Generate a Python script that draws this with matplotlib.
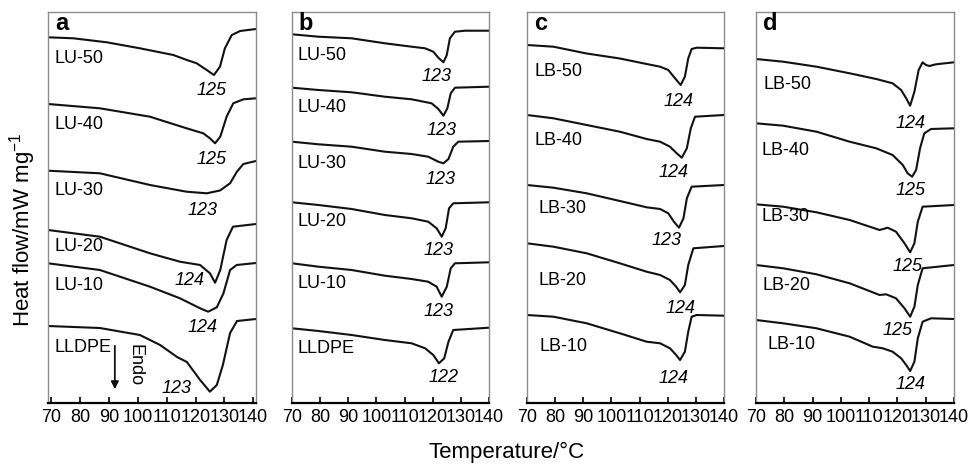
import matplotlib
matplotlib.use('Agg')
import matplotlib.pyplot as plt

plt.rcParams['font.family'] = ['Liberation Sans', 'DejaVu Sans']
plt.rcParams['mathtext.fontset'] = 'custom'
plt.rcParams['mathtext.rm'] = 'Liberation Sans'
plt.rcParams['mathtext.it'] = 'Liberation Sans:italic'

# ---------------- data (temperature / °C, heat flow in arbitrary offset units) ----------------
temp_ticks = [70, 80, 90, 100, 110, 120, 130, 140]

# panel a
a_names = ['LU-50', 'LU-40', 'LU-30', 'LU-20', 'LU-10', 'LLDPE']
a_peaks = ['125', '125', '123', '124', '124', '123']
a_lu50_t = [68.8, 77.6, 89.2, 100.7, 112.3, 117.0, 120.4, 123.9, 126.4, 128.5, 130.2, 132.6, 135.5, 141.0]
a_lu50_h = [365.7, 364.7, 360.7, 354.7, 348.0, 343.0, 339.7, 333.0, 328.0, 336.3, 354.7, 368.0, 372.0, 374.0]
a_lu40_t = [68.8, 86.8, 104.2, 116.9, 122.7, 125.0, 126.8, 128.6, 130.8, 133.1, 136.6, 141.0]
a_lu40_h = [299.0, 294.7, 286.3, 274.7, 269.7, 264.7, 259.7, 266.3, 286.3, 299.7, 303.7, 304.7]
a_lu30_t = [68.8, 86.8, 104.2, 116.9, 123.9, 128.5, 132.0, 134.3, 136.6, 141.0]
a_lu30_h = [232.3, 229.7, 218.0, 211.3, 209.7, 212.5, 219.7, 231.0, 239.0, 242.0]
a_lu20_t = [68.8, 86.8, 104.2, 114.6, 121.6, 125.0, 126.8, 128.6, 130.8, 133.0, 141.0]
a_lu20_h = [173.0, 166.3, 149.7, 141.3, 138.0, 129.7, 120.3, 133.0, 163.0, 176.3, 179.0]
a_lu10_t = [68.8, 86.8, 104.2, 114.6, 121.6, 124.4, 127.4, 129.7, 132.0, 134.3, 141.0]
a_lu10_h = [139.7, 133.0, 116.3, 104.7, 94.7, 91.3, 95.7, 109.7, 133.0, 138.0, 140.0]
a_lldpe_t = [68.8, 86.8, 100.7, 107.7, 113.6, 117.0, 121.6, 125.0, 127.4, 129.5, 132.0, 134.4, 141.0]
a_lldpe_h = [77.0, 75.0, 68.0, 58.0, 46.0, 41.0, 23.0, 11.3, 18.0, 38.0, 70.0, 82.0, 84.0]

# panel b
b_names = ['LU-50', 'LU-40', 'LU-30', 'LU-20', 'LU-10', 'LLDPE']
b_peaks = ['123', '123', '123', '123', '123', '122']
b_lu50_t = [70, 79.4, 91.2, 103.0, 112.5, 117.3, 120.2, 122.0, 123.8, 125.0, 126.1, 127.9, 131.5, 140]
b_lu50_h = [368.7, 366.3, 364.7, 359.7, 356.3, 354.7, 351.3, 345.3, 340.7, 348.0, 364.7, 371.3, 372.3, 372.3]
b_lu40_t = [70, 79.4, 91.2, 103.0, 112.5, 119.6, 122.0, 123.8, 125.2, 126.4, 127.9, 140]
b_lu40_h = [315.3, 313.0, 310.7, 306.3, 303.7, 299.7, 294.0, 287.3, 294.7, 309.7, 315.3, 316.3]
b_lu30_t = [70, 79.4, 91.2, 103.0, 112.5, 118.4, 122.0, 123.8, 125.6, 127.3, 129.1, 140]
b_lu30_h = [261.3, 258.7, 256.3, 251.3, 249.0, 246.3, 241.3, 239.7, 244.0, 256.3, 261.3, 262.0]
b_lu20_t = [70, 79.4, 91.2, 103.0, 112.5, 118.4, 121.4, 123.2, 124.6, 125.8, 127.3, 140]
b_lu20_h = [200.7, 198.0, 194.0, 188.0, 184.7, 181.3, 174.7, 166.3, 174.7, 194.7, 199.7, 200.7]
b_lu10_t = [70, 79.4, 91.2, 103.0, 112.5, 118.4, 121.4, 123.2, 125.0, 126.4, 127.9, 140]
b_lu10_h = [139.7, 136.3, 133.0, 127.3, 124.0, 121.3, 116.3, 106.3, 116.3, 134.7, 139.7, 140.7]
b_lldpe_t = [70, 79.4, 91.2, 103.0, 112.5, 117.3, 120.2, 122.2, 124.1, 125.6, 127.3, 140]
b_lldpe_h = [74.7, 72.0, 68.0, 63.0, 59.7, 54.7, 48.0, 39.7, 44.7, 61.3, 73.0, 75.3]

# panel c
c_names = ['LB-50', 'LB-40', 'LB-30', 'LB-20', 'LB-10']
c_peaks = ['124', '124', '123', '124', '124']
c_lb50_t = [70, 79.4, 91.2, 103.0, 112.5, 117.3, 120.2, 122.6, 124.6, 126.1, 127.3, 128.5, 130.3, 140]
c_lb50_h = [358.0, 356.3, 349.5, 344.5, 339.0, 336.3, 333.0, 324.7, 318.0, 326.3, 344.7, 354.0, 355.3, 354.7]
c_lb40_t = [70, 79.4, 91.2, 103.0, 112.5, 117.3, 120.8, 123.2, 125.0, 126.8, 128.2, 129.7, 140]
c_lb40_h = [288.0, 284.7, 278.0, 271.3, 264.0, 261.3, 256.3, 249.7, 245.3, 254.7, 274.7, 286.3, 288.0]
c_lb30_t = [70, 79.4, 91.2, 103.0, 112.5, 117.3, 120.2, 122.2, 124.0, 125.6, 126.8, 128.5, 140]
c_lb30_h = [218.0, 215.3, 209.7, 202.0, 195.7, 194.0, 189.7, 181.3, 175.3, 184.7, 204.7, 216.3, 218.0]
c_lb20_t = [70, 79.4, 91.2, 103.0, 112.5, 117.3, 120.8, 123.0, 124.4, 126.1, 127.3, 129.1, 140]
c_lb20_h = [159.7, 156.3, 149.7, 139.7, 131.3, 128.0, 123.0, 116.3, 110.7, 118.0, 138.0, 154.7, 157.0]
c_lb10_t = [70, 79.4, 91.2, 103.0, 112.5, 117.3, 120.8, 123.0, 124.4, 126.1, 127.3, 128.5, 130.3, 140]
c_lb10_h = [88.0, 86.3, 79.7, 69.7, 61.3, 59.7, 54.7, 48.0, 43.0, 51.3, 71.3, 86.3, 88.0, 87.3]

# panel d
d_names = ['LB-50', 'LB-40', 'LB-30', 'LB-20', 'LB-10']
d_peaks = ['124', '125', '125', '125', '124']
d_lb50_t = [70, 79.6, 91.4, 103.1, 112.5, 118.3, 121.3, 123.1, 124.5, 126.0, 127.5, 128.9, 130.1, 131.3, 133.6, 140]
d_lb50_h = [344.0, 341.3, 336.3, 329.7, 324.0, 319.7, 313.0, 304.7, 297.3, 311.3, 333.0, 340.7, 338.0, 337.0, 338.7, 340.7]
d_lb40_t = [70, 79.6, 91.4, 103.1, 112.5, 118.3, 121.9, 123.6, 125.2, 126.6, 128.0, 129.5, 131.9, 140]
d_lb40_h = [279.7, 277.3, 271.3, 261.3, 254.7, 248.0, 238.0, 229.7, 226.3, 233.0, 254.7, 269.7, 274.0, 274.7]
d_lb30_t = [70, 79.6, 91.4, 103.1, 113.7, 116.6, 119.5, 122.5, 124.5, 126.0, 127.2, 128.9, 140]
d_lb30_h = [198.7, 196.3, 190.7, 183.0, 173.0, 175.3, 171.3, 159.7, 150.7, 159.7, 181.3, 196.3, 198.0]
d_lb20_t = [70, 79.6, 91.4, 103.1, 113.7, 116.0, 119.5, 122.5, 124.5, 126.0, 127.2, 128.9, 140]
d_lb20_h = [138.0, 134.7, 128.7, 119.7, 108.0, 108.7, 104.7, 94.7, 86.3, 96.3, 118.0, 134.7, 138.0]
d_lb10_t = [70, 79.6, 91.4, 103.1, 111.3, 114.8, 118.3, 121.3, 123.1, 124.5, 126.0, 127.2, 128.9, 131.9, 140]
d_lb10_h = [83.0, 79.7, 74.7, 66.3, 56.3, 54.7, 51.3, 44.7, 38.0, 32.0, 41.3, 64.7, 81.3, 84.7, 84.0]

# ---------------- layout ----------------
W, H = 973, 465
fig = plt.figure(figsize=(W / 100, H / 100), dpi=100)

panels = [
    dict(letter='a', px=(48, 256), xlim=(68.8, 141.0),
         curves=[(a_lu50_t, a_lu50_h), (a_lu40_t, a_lu40_h), (a_lu30_t, a_lu30_h),
                 (a_lu20_t, a_lu20_h), (a_lu10_t, a_lu10_h), (a_lldpe_t, a_lldpe_h)],
         names=a_names, peaks=a_peaks,
         name_pos=[(71, 345), (71, 279), (71, 213), (71, 156.3), (71, 118), (71, 56)],
         peak_pos=[(125.6, 313), (125.6, 243.7), (122.6, 192.3), (118.1, 122.3), (122.6, 76), (113.5, 14.7)]),
    dict(letter='b', px=(292, 489), xlim=(70, 140),
         curves=[(b_lu50_t, b_lu50_h), (b_lu40_t, b_lu40_h), (b_lu30_t, b_lu30_h),
                 (b_lu20_t, b_lu20_h), (b_lu10_t, b_lu10_h), (b_lldpe_t, b_lldpe_h)],
         names=b_names, peaks=b_peaks,
         name_pos=[(72, 348), (72, 296), (72, 239.7), (72, 181.3), (72, 119.7), (72, 54.7)],
         peak_pos=[(121.4, 326.3), (123.2, 272.3), (122.6, 223.7), (122, 152.3), (122, 91.3), (124, 25.7)]),
    dict(letter='c', px=(527, 724), xlim=(70, 140),
         curves=[(c_lb50_t, c_lb50_h), (c_lb40_t, c_lb40_h), (c_lb30_t, c_lb30_h),
                 (c_lb20_t, c_lb20_h), (c_lb10_t, c_lb10_h)],
         names=c_names, peaks=c_peaks,
         name_pos=[(72.8, 331.3), (72.8, 263), (74, 194.7), (74, 123), (74.6, 56.3)],
         peak_pos=[(123.8, 301.3), (122, 230.3), (119.6, 162.3), (124.4, 94.7), (122, 24.7)]),
    dict(letter='d', px=(756, 954), xlim=(70, 140),
         curves=[(d_lb50_t, d_lb50_h), (d_lb40_t, d_lb40_h), (d_lb30_t, d_lb30_h),
                 (d_lb20_t, d_lb20_h), (d_lb10_t, d_lb10_h)],
         names=d_names, peaks=d_peaks,
         name_pos=[(72.6, 319), (72, 253), (72, 186.3), (72.4, 118), (74, 59)],
         peak_pos=[(124.8, 279.7), (124.8, 212.3), (123.6, 136.3), (120.1, 73), (124.8, 19)]),
]

top_px, bot_px = 12, 403
FS = 13
for p in panels:
    x0, x1 = p['px']
    ax = fig.add_axes([x0 / W, (H - bot_px) / H, (x1 - x0) / W, (bot_px - top_px) / H])
    for t, h in p['curves']:
        ax.plot(t, h, color='#111111', lw=1.5, solid_joinstyle='round')
    ax.set_xlim(*p['xlim'])
    ax.set_ylim(0, bot_px - top_px)
    ax.set_yticks([])
    ax.set_xticks(temp_ticks)
    ax.set_xticklabels([str(v) for v in temp_ticks], fontsize=FS)
    ax.tick_params(axis='x', direction='in', length=4, width=1.2, pad=4, colors='black')
    for s in ['top', 'right', 'left']:
        ax.spines[s].set_color('#8c8c8c')
        ax.spines[s].set_linewidth(1.0)
    ax.spines['bottom'].set_color('black')
    ax.spines['bottom'].set_linewidth(1.6)
    ax.text(0.035, 1.0, p['letter'], transform=ax.transAxes, fontsize=17,
            fontweight='bold', ha='left', va='top')
    for name, (tx, ty) in zip(p['names'], p['name_pos']):
        ax.text(tx, ty, name, fontsize=FS, ha='left', va='center')
    for pk, (tx, ty) in zip(p['peaks'], p['peak_pos']):
        ax.text(tx, ty, pk, fontsize=FS, style='italic', ha='center', va='center')
    if p['letter'] == 'a':
        ax.annotate('', xy=(92, 11), xytext=(92, 60),
                    arrowprops=dict(arrowstyle='-|>', color='#111111', lw=1.3, mutation_scale=11))
        ax.text(99, 38, 'Endo', fontsize=FS, rotation=270, ha='center', va='center')

fig.text(23 / W, 1 - 230 / H, 'Heat flow/mW mg$^{-1}$', rotation=90, fontsize=16,
         ha='center', va='center')
fig.text(507 / W, 1 - 452 / H, 'Temperature/°C', fontsize=16, ha='center', va='center')

fig.savefig('out.png', dpi=100, facecolor='white')
